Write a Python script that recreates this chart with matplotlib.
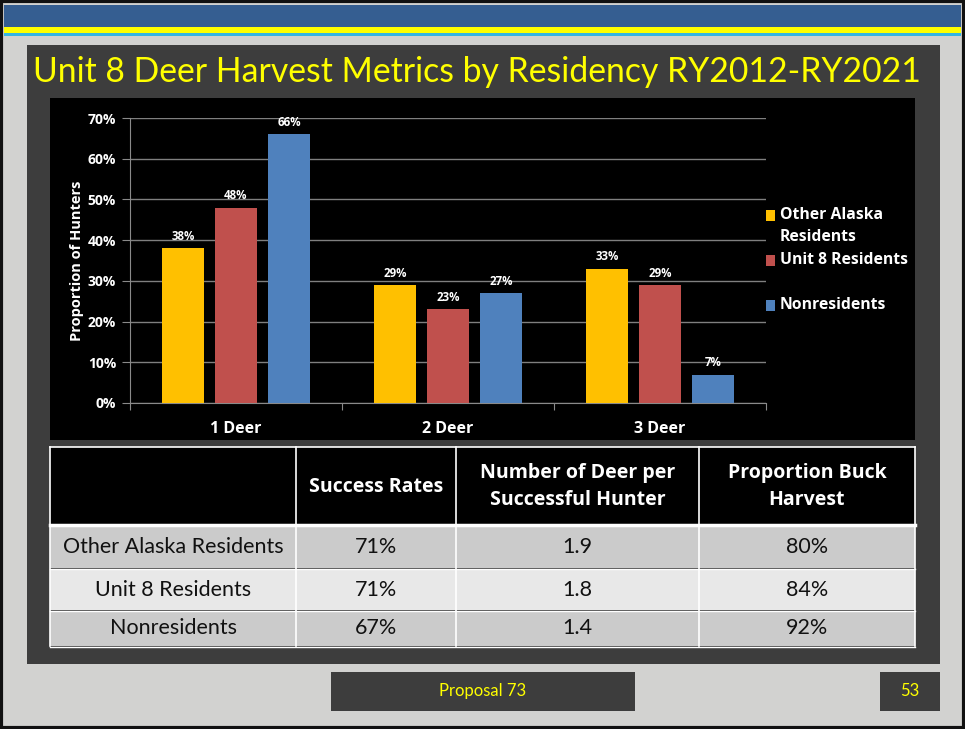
import matplotlib
matplotlib.use("Agg")
import matplotlib.pyplot as plt
from matplotlib.patches import Rectangle
import numpy as np

plt.rcParams['font.family'] = ['Lato', 'DejaVu Sans']
BOLD = ['Open Sans', 'DejaVu Sans']

W, H = 965, 729

categories = ["1 Deer", "2 Deer", "3 Deer"]
series_names = ["Other Alaska\nResidents", "Unit 8 Residents", "Nonresidents"]
other_ak = [38, 29, 33]
unit8 = [48, 23, 29]
nonres = [66, 27, 7]
series_values = [other_ak, unit8, nonres]
series_colors = ["#FFC000", "#C0504D", "#4F81BD"]
ytick_vals = [0, 10, 20, 30, 40, 50, 60, 70]

table_cols = ["", "Success Rates", "Number of Deer per\nSuccessful Hunter", "Proportion Buck\nHarvest"]
table_rows = ["Other Alaska Residents", "Unit 8 Residents", "Nonresidents"]
success_rates = ["71%", "71%", "67%"]
deer_per_hunter = ["1.9", "1.8", "1.4"]
buck_prop = ["80%", "84%", "92%"]

title = "Unit 8 Deer Harvest Metrics by Residency RY2012-RY2021"
footer_text = "Proposal 73"
page_no = "53"

fig = plt.figure(figsize=(W / 100, H / 100), dpi=100)
fig.patch.set_facecolor("#d2d2d0")

bg = fig.add_axes([0, 0, 1, 1])
bg.set_xlim(0, W)
bg.set_ylim(H, 0)
bg.axis("off")

def rect(x0, y0, x1, y1, **kw):
    bg.add_patch(Rectangle((x0, y0), x1 - x0, y1 - y0, **kw))

# outer frame
rect(1, 1, W - 1, H - 1, facecolor="none", edgecolor="#111111", lw=3)
# header bands
rect(4, 5, W - 4, 27, facecolor="#355E91", edgecolor="none")
rect(4, 27, W - 4, 33, facecolor="#FFFF00", edgecolor="none")
rect(4, 33, W - 4, 36, facecolor="#33B5E5", edgecolor="none")
# dark panel
rect(27, 45, 940, 664, facecolor="#3d3d3d", edgecolor="none")
# chart black area
rect(50, 98, 915, 440, facecolor="#000000", edgecolor="none")

bg.text(477, 72, title, color="#FFFF00", fontsize=24.3, ha="center", va="center")

# footer
rect(331, 672, 635, 711, facecolor="#3d3d3d", edgecolor="none")
rect(880, 672, 940, 711, facecolor="#3d3d3d", edgecolor="none")
bg.text(483, 691, footer_text, color="#FFFF00", fontsize=12, ha="center", va="center")
bg.text(910, 691, page_no, color="#FFFF00", fontsize=12, ha="center", va="center")

# ---- bar chart ----
ax_l, ax_r, ax_t, ax_b = 130, 766, 118, 403
ax = fig.add_axes([ax_l / W, 1 - ax_b / H, (ax_r - ax_l) / W, (ax_b - ax_t) / H])
ax.set_facecolor("#000000")
x = np.arange(len(categories))
bw = 0.198
offs = [-0.25, 0, 0.25]
for vals, c, o, name in zip(series_values, series_colors, offs, series_names):
    bars = ax.bar(x + o, vals, width=bw, color=c, label=name, zorder=3)
    for b, v in zip(bars, vals):
        ax.text(b.get_x() + b.get_width() / 2, v + 1.3, f"{v}%", color="white",
                fontsize=8.3, fontweight="bold", family=BOLD, ha="center", va="bottom", zorder=4)
ax.set_xlim(-0.5, 2.5)
ax.set_ylim(0, 70)
ax.set_yticks(ytick_vals)
ax.set_yticklabels([f"{v}%" for v in ytick_vals], color="white", fontsize=10,
                   fontweight="bold", family=BOLD)
ax.yaxis.grid(True, color="#7f7f7f", lw=1, zorder=0)
ax.set_xticks([-0.5, 0.5, 1.5, 2.5])
ax.set_xticklabels([])
ax.set_xticks(x, minor=True)
ax.set_xticklabels(categories, minor=True, color="white", fontsize=11.5,
                   fontweight="bold", family=BOLD)
ax.tick_params(axis="x", which="minor", length=0, pad=13)
ax.tick_params(axis="x", which="major", length=5, color="#8a8a8a", direction="out")
ax.tick_params(axis="y", length=6, color="#8a8a8a", pad=4)
for s in ["top", "right"]:
    ax.spines[s].set_visible(False)
for s in ["left", "bottom"]:
    ax.spines[s].set_color("#8a8a8a")
ax.set_ylabel("Proportion of Hunters", color="white", fontsize=10.5, fontweight="bold",
              family=BOLD, labelpad=3)

# legend (manual, positioned like the original)
leg_items = [(series_names[0], series_colors[0], 215, 226), (series_names[1], series_colors[1], 260, 260),
             (series_names[2], series_colors[2], 305, 305)]
for name, col, sq_y, txt_y in leg_items:
    rect(764, sq_y - 5.5, 775, sq_y + 5.5, facecolor=col, edgecolor="none")
    bg.text(780, txt_y, name, color="white", fontsize=11.3, fontweight="bold", family=BOLD,
            ha="left", va="center", linespacing=1.45)

# ---- table ----
col_x = [50, 296, 456, 699, 915]
hdr_top, hdr_bot = 447, 524
row_edges = [(526, 568), (569, 610), (611, 646)]
row_colors = ["#cbcbcb", "#e8e8e8", "#cbcbcb"]

rect(col_x[0], hdr_top, col_x[-1], hdr_bot, facecolor="#000000", edgecolor="none")
for i in range(1, 4):
    bg.text((col_x[i] + col_x[i + 1]) / 2, (hdr_top + hdr_bot) / 2 + 1, table_cols[i],
            color="white", fontsize=14, fontweight="bold", family=BOLD, ha="center", va="center",
            linespacing=1.45)
bg.plot([col_x[0], col_x[-1]], [hdr_top, hdr_top], color="white", lw=1.2)
bg.plot([col_x[0], col_x[-1]], [hdr_bot + 1, hdr_bot + 1], color="white", lw=2.5)
table_data = [success_rates, deer_per_hunter, buck_prop]
for r, ((y0, y1), rc) in enumerate(zip(row_edges, row_colors)):
    rect(col_x[0], y0, col_x[-1], y1, facecolor=rc, edgecolor="none")
    ym = (y0 + y1) / 2
    bg.text((col_x[0] + col_x[1]) / 2, ym, table_rows[r], color="#111111", fontsize=15.5,
            ha="center", va="center")
    for c in range(3):
        bg.text((col_x[c + 1] + col_x[c + 2]) / 2, ym, table_data[c][r], color="#111111",
                fontsize=15.5, ha="center", va="center")
for (y0, y1) in row_edges:
    bg.plot([col_x[0], col_x[-1]], [y1 + 0.5, y1 + 0.5], color="white", lw=1)
for xv in col_x:
    bg.plot([xv, xv], [hdr_top, row_edges[-1][1]], color="white", lw=1.2)

fig.savefig("out.png", dpi=100, facecolor=fig.get_facecolor())
